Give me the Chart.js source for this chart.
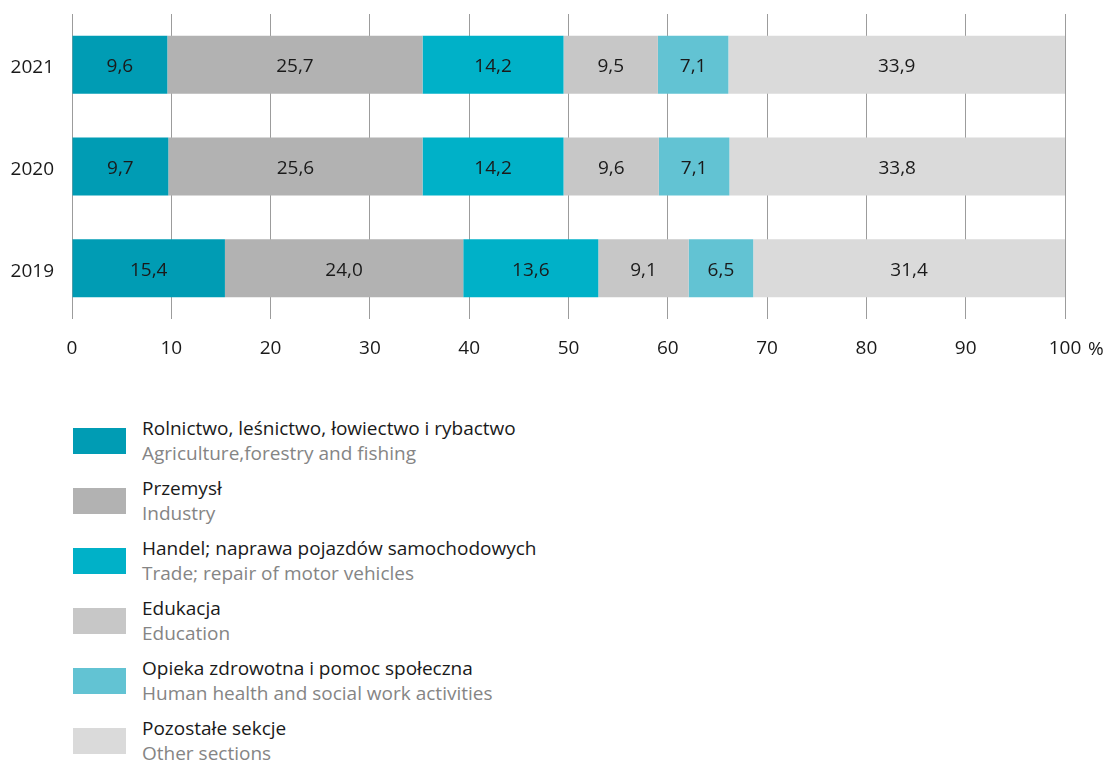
<!DOCTYPE html>
<html>
<head>
<meta charset="utf-8">
<script src="https://cdn.jsdelivr.net/npm/chart.js@4"></script>
<style>
  body { margin: 0; background: #fff; font-family: "Open Sans", sans-serif; }
  #wrap { position: absolute; left: 0; top: 0; width: 1107px; height: 370px; }
  #legend { position: absolute; left: 0; top: 0; }
  .item { position: absolute; left: 0; }
  .sw { position: absolute; left: 73px; width: 53px; height: 26px; }
  .txt { position: absolute; left: 142px; font-size: 19px; line-height: 25px; white-space: nowrap; }
  .pl { color: #1a1a1a; }
  .en { color: #858585; }
</style>
</head>
<body>
<div id="wrap"><canvas id="myChart"></canvas></div>
<div id="legend"></div>
<script>
const years = ['2021', '2020', '2019'];
const seriesPl = [
    'Rolnictwo, leśnictwo, łowiectwo i rybactwo',
    'Przemysł',
    'Handel; naprawa pojazdów samochodowych',
    'Edukacja',
    'Opieka zdrowotna i pomoc społeczna',
    'Pozostałe sekcje'
];
const seriesEn = [
    'Agriculture,forestry and fishing',
    'Industry',
    'Trade; repair of motor vehicles',
    'Education',
    'Human health and social work activities',
    'Other sections'
];
const agriculture = [9.6, 9.7, 15.4];
const industry = [25.7, 25.6, 24.0];
const trade = [14.2, 14.2, 13.6];
const education = [9.5, 9.6, 9.1];
const health = [7.1, 7.1, 6.5];
const other = [33.9, 33.8, 31.4];
const xTicks = [0, 10, 20, 30, 40, 50, 60, 70, 80, 90, 100];

const colors = ['#009cb4', '#b2b2b2', '#00b1c8', '#c7c7c7', '#62c3d3', '#dadada'];
const values = [agriculture, industry, trade, education, health, other];

const data = {
    labels: years,
    datasets: values.map((v, i) => ({
        label: seriesPl[i],
        data: v,
        backgroundColor: colors[i],
        borderWidth: 0,
        categoryPercentage: 1,
        barPercentage: 0.57
    }))
};

// values inside the bars
const barLabels = {
    id: 'barLabels',
    afterDatasetsDraw(chart) {
        const ctx = chart.ctx;
        ctx.save();
        ctx.font = '19px "Open Sans"';
        ctx.fillStyle = '#1a1a1a';
        ctx.textAlign = 'center';
        ctx.textBaseline = 'middle';
        chart.data.datasets.forEach((ds, i) => {
            chart.getDatasetMeta(i).data.forEach((bar, j) => {
                const c = bar.getCenterPoint();
                ctx.fillText(ds.data[j].toFixed(1).replace('.', ','), c.x, c.y + 2);
            });
        });
        ctx.restore();
    }
};

// "%" after the last tick
const percentSign = {
    id: 'percentSign',
    afterDraw(chart) {
        const ctx = chart.ctx;
        const x = chart.scales.x.getPixelForValue(100);
        ctx.save();
        ctx.font = '19px "Open Sans"';
        ctx.fillStyle = '#1a1a1a';
        ctx.textAlign = 'left';
        ctx.textBaseline = 'middle';
        ctx.fillText('%', x + 23, 350);
        ctx.restore();
    }
};

const chart = new Chart(document.getElementById('myChart'), {
    type: 'bar',
    data: data,
    plugins: [barLabels, percentSign],
    options: {
        indexAxis: 'y',
        responsive: true,
        maintainAspectRatio: false,
        animation: false,
        layout: { padding: { top: 14, right: 42, bottom: 0, left: 0 } },
        plugins: {
            legend: { display: false },
            tooltip: { enabled: false }
        },
        scales: {
            x: {
                stacked: true,
                min: 0,
                max: 100,
                afterBuildTicks: (s) => { s.ticks = xTicks.map(v => ({ value: v })); },
                afterFit: (s) => { s.height = 51; },
                grid: { color: '#9c9c9c', lineWidth: 1, drawTicks: false },
                border: { display: false },
                ticks: {
                    padding: 18,
                    color: '#1a1a1a',
                    font: { family: 'Open Sans', size: 19 }
                }
            },
            y: {
                stacked: true,
                afterFit: (s) => { s.width = 72; s.paddingTop = 0; s.paddingBottom = 0; },
                grid: { display: false, drawTicks: false },
                border: { display: false },
                ticks: {
                    padding: 18,
                    labelOffset: 3,
                    color: '#1a1a1a',
                    font: { family: 'Open Sans', size: 19 }
                }
            }
        }
    }
});

// legend with Polish and English names
const legend = document.getElementById('legend');
seriesPl.forEach((name, i) => {
    const top = 428 + i * 60;
    const item = document.createElement('div');
    item.className = 'item';
    item.innerHTML =
        '<div class="sw" style="top:' + top + 'px;background:' + colors[i] + '"></div>' +
        '<div class="txt" style="top:' + (top - 12) + 'px"><div class="pl">' + name +
        '</div><div class="en">' + seriesEn[i] + '</div></div>';
    legend.appendChild(item);
});
</script>
</body>
</html>
